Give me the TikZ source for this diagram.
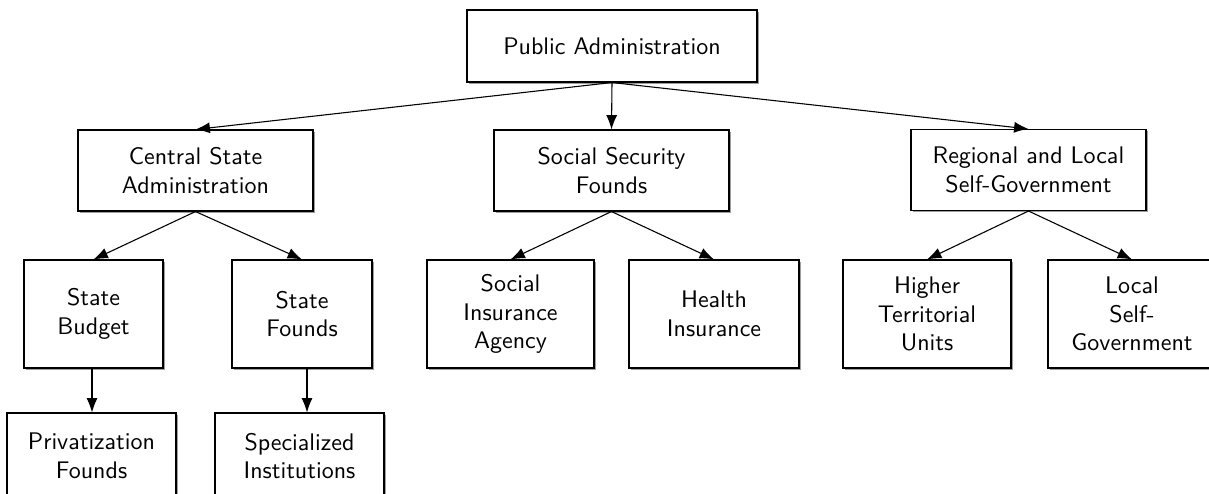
\documentclass[tikz,border=0pt]{standalone}
\usetikzlibrary{arrows.meta,shadows}
\begin{document}
\begin{tikzpicture}[x=0.4167pt,y=-0.4167pt,
  box/.style={draw=black, fill=white, line width=0.45pt, inner sep=0pt, align=center,
    font=\sffamily, drop shadow={shadow xshift=0.7pt, shadow yshift=-0.7pt, fill=black!45, opacity=0.85}},
  conn/.style={line width=0.45pt, -{Latex[length=6pt,width=4.6pt]}}]
\clip (0,0) rectangle (1209,494);
\fill[white] (0,0) rectangle (1209,494);
% level 0
\node[box, minimum width=290*0.4167pt, minimum height=72*0.4167pt] (pa) at (612,46) {Public Administration};
% level 1
\node[box, minimum width=235*0.4167pt, minimum height=81*0.4167pt] (csa) at (195.5,170.5) {Central State\\Administration};
\node[box, minimum width=235*0.4167pt, minimum height=81*0.4167pt] (ssf) at (611.5,170.5) {Social Security\\Founds};
\node[box, minimum width=235*0.4167pt, minimum height=81*0.4167pt] (rls) at (1028.5,170) {Regional and Local\\Self-Government};
% level 2
\node[box, minimum width=139*0.4167pt, minimum height=108*0.4167pt] (sb) at (93.5,314) {State\\Budget};
\node[box, minimum width=140*0.4167pt, minimum height=108*0.4167pt] (sf) at (302,314) {State\\Founds};
\node[box, minimum width=167*0.4167pt, minimum height=108*0.4167pt] (sia) at (510.5,314) {Social\\Insurance\\Agency};
\node[box, minimum width=170*0.4167pt, minimum height=108*0.4167pt] (hi) at (714,314) {Health\\Insurance};
\node[box, minimum width=168*0.4167pt, minimum height=108*0.4167pt] (htu) at (927,314) {Higher\\Territorial\\Units};
\node[box, minimum width=168*0.4167pt, minimum height=108*0.4167pt] (lsg) at (1132,314) {Local\\Self-\\Government};
% level 3
\node[box, minimum width=169*0.4167pt, minimum height=86*0.4167pt] (pf) at (91.5,456) {Privatization\\Founds};
\node[box, minimum width=169*0.4167pt, minimum height=86*0.4167pt] (si) at (299.5,456) {Specialized\\Institutions};
% connectors
\draw[conn] (pa.south) -- (csa.north);
\draw[conn] (pa.south) -- (ssf.north);
\draw[conn] (pa.south) -- (rls.north);
\draw[conn] (csa.south) -- (sb.north);
\draw[conn] (csa.south) -- (sf.north);
\draw[conn] (ssf.south) -- (sia.north);
\draw[conn] (ssf.south) -- (hi.north);
\draw[conn] (rls.south) -- (htu.north);
\draw[conn] (rls.south) -- (lsg.north);
\draw[conn] ([xshift=-1.5*0.4167pt]sb.south) -- ([xshift=-1.5*0.4167pt]sb.south |- pf.north);
\draw[conn] ([xshift=5*0.4167pt]sf.south) -- ([xshift=5*0.4167pt]sf.south |- si.north);
\end{tikzpicture}
\end{document}
